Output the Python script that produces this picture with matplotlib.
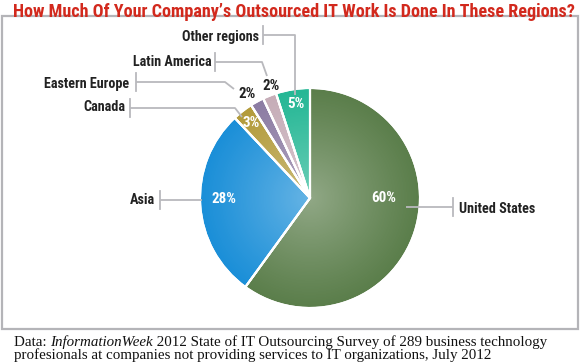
import numpy as np
import matplotlib.pyplot as plt
from matplotlib.patches import Rectangle, Circle
from matplotlib import font_manager

regions = ['United States', 'Asia', 'Canada', 'Eastern Europe', 'Latin America', 'Other regions']
shares = [60, 28, 3, 2, 2, 5]
colors = ['#5b7e4b', '#1b8fd8', '#b39b3b', '#8c7ca3', '#c6adb8', '#25b795']

# pick a narrow sans if one is installed
fonts = font_manager.fontManager.ttflist
names = {f.name for f in fonts}
stretch = 'normal'
cond = 'Roboto'
for cand in ['Roboto Condensed', 'Liberation Sans Narrow', 'Open Sans Condensed']:
    if cand in names:
        cond = cand
        break
else:
    if any(f.name == 'DejaVu Sans' and f.stretch == 'condensed' for f in fonts):
        cond, stretch = 'DejaVu Sans', 'condensed'

W, H = 580, 362
fig = plt.figure(figsize=(W / 100, H / 100), dpi=100)
ax = fig.add_axes([0, 0, 1, 1])
renderer = fig.canvas.get_renderer()


def py(y):
    return H - y


ax.add_patch(Rectangle((1.5, py(329)), 576, 313, fill=False, ec='#b4b4b8', lw=1.6))

cx, cy, R = 310, py(198), 110
wedges, _ = ax.pie(shares, colors=colors, startangle=90, counterclock=False,
                   center=(cx, cy), radius=R, frame=True,
                   wedgeprops=dict(edgecolor='white', linewidth=1.5, zorder=2))

# soft light in the middle of the pie
n = 300
gx, gy = np.meshgrid(np.linspace(-1, 1, n), np.linspace(-1, 1, n))
rr = np.sqrt(gx ** 2 + gy ** 2)
glow = np.zeros((n, n, 4))
glow[..., :3] = 1
glow[..., 3] = np.clip(0.33 * (1 - rr) ** 1.1, 0, 1)
im = ax.imshow(glow, extent=(cx - R, cx + R, cy - R, cy + R), origin='lower', zorder=3)
im.set_clip_path(Circle((cx, cy), R, transform=ax.transData))
# white gaps again above the glow
ax.pie(shares, colors=['none'] * len(shares), startangle=90, counterclock=False,
       center=(cx, cy), radius=R, frame=True,
       wedgeprops=dict(edgecolor='white', linewidth=1.5, zorder=4))
ax.set_xlim(0, W)
ax.set_ylim(0, H)
ax.set_aspect('equal')
ax.axis('off')

lc = '#b9b9bd'
lab = dict(family=cond, fontstretch=stretch, fontweight='bold', fontsize=10.2, color='#222222', zorder=6)
pct = dict(family=cond, fontstretch=stretch, fontweight='bold', fontsize=10.8, zorder=6,
           ha='center', va='center')


def leader(pts, tick_x, tick_y):
    xs, ys = zip(*pts)
    ax.plot(xs, [py(v) for v in ys], color=lc, lw=1.3, zorder=5, solid_capstyle='butt')
    ax.plot([tick_x, tick_x], [py(tick_y - 9), py(tick_y + 9)], color=lc, lw=1.3, zorder=5)


# United States
leader([(406, 207), (453, 207)], 453, 207)
ax.text(459, py(209), regions[0], ha='left', va='center', **lab)
ax.text(384, py(198), f'{shares[0]}%', color='white', **pct)
# Asia
leader([(160, 200), (202, 200)], 160, 200)
ax.text(155, py(200), regions[1], ha='right', va='center', **lab)
ax.text(224, py(199), f'{shares[1]}%', color='white', **pct)
# Canada
leader([(130, 108), (235, 108), (242, 117)], 130, 108)
ax.text(125, py(107), regions[2], ha='right', va='center', **lab)
ax.text(251, py(123), f'{shares[2]}%', color='white', **pct)
# Eastern Europe
leader([(136, 82), (225, 82), (234, 89)], 136, 82)
ax.text(129, py(84), regions[3], ha='right', va='center', **lab)
ax.text(247, py(94), f'{shares[3]}%', color='#222222', **pct)
# Latin America
leader([(215, 62), (262, 62), (267, 76)], 215, 62)
ax.text(212, py(62), regions[4], ha='right', va='center', **lab)
ax.text(271, py(86), f'{shares[4]}%', color='#222222', **pct)
# Other regions
leader([(263, 35), (295, 35), (295, 95)], 263, 35)
ax.text(259, py(37), regions[5], ha='right', va='center', **lab)
ax.text(296, py(104), f'{shares[5]}%', color='white', **pct)

title = ax.text(13, py(12), 'How Much Of Your Company\u2019s Outsourced IT Work Is Done In These Regions?',
                family=cond, fontstretch=stretch, fontweight='bold', fontsize=16,
                color='#d2291d', ha='left', va='center')
w = title.get_window_extent(renderer).width
title.set_fontsize(min(16, 16 * 562 / w))

foot = dict(family='Liberation Serif', fontsize=10.8, color='#111111', va='bottom')
t1 = ax.text(14, py(349), 'Data: ', ha='left', **foot)
t2 = ax.annotate('InformationWeek', xy=(1, 0), xycoords=t1, ha='left', style='italic', **foot)
ax.annotate(' 2012 State of IT Outsourcing Survey of 289 business technology',
            xy=(1, 0), xycoords=t2, ha='left', **foot)
ax.text(14, py(362), 'profesionals at companies not providing services to IT organizations, July 2012',
        ha='left', **foot)

fig.savefig('out.png', dpi=100)
